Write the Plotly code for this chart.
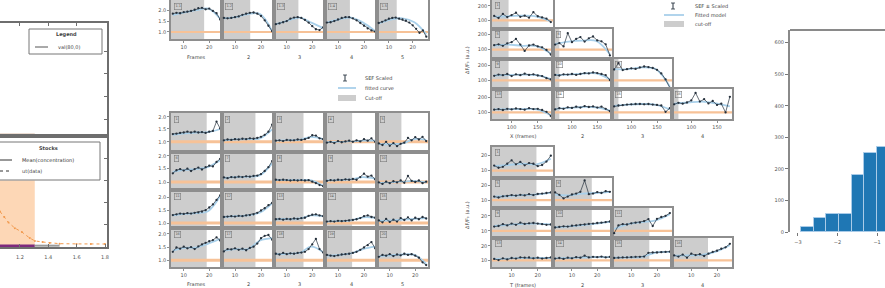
import plotly.graph_objects as go

# ======================= DATA =======================
# Panel A (left, cropped)
A_X_TICKS = [1.2, 1.4, 1.6, 1.8]
A_X_LABELS = ["1.2", "1.4", "1.6", "1.8"]
A_CURVE_X = [1.06, 1.09, 1.12, 1.165, 1.214, 1.27, 1.306, 1.36, 1.41, 1.48, 1.60, 1.70, 1.80]
A_CURVE_Y = [0.32, 0.27, 0.22, 0.17, 0.135, 0.08, 0.055, 0.045, 0.036, 0.03, 0.028, 0.027, 0.027]
A_BAND_X = [1.06, 1.305]
A_BAND_Y = [0.60, 0.60]
A_MEAN_X = [1.06, 1.305]
A_MEAN_Y = [0.012, 0.012]
A_REST_X = [1.305, 1.48]
A_REST_Y = [0.012, 0.012]
A_TOP_BAND_X = [1.06, 1.305]
A_TOP_BAND_Y = [0.012, 0.012]

# Panel B, top row
B_TOP_DOTS = [
    [6.5, 6.7, 6.6, 6.9, 7.0, 7.2, 7.5, 7.9, 8.0, 7.6, 7.8, 7.2, 6.6, 5.0],
    [5.4, 5.3, 5.4, 5.6, 5.8, 6.2, 6.5, 6.7, 6.8, 6.5, 5.9, 4.8, 3.4, 2.0],
    [3.8, 4.0, 4.3, 4.6, 5.2, 5.5, 5.6, 5.4, 4.9, 4.2, 3.3, 2.5, 2.3, 3.0],
    [4.2, 4.3, 4.6, 5.0, 5.4, 5.6, 5.6, 5.3, 4.8, 4.1, 3.4, 2.7, 2.2, 1.9],
    [4.1, 4.4, 4.8, 5.2, 5.4, 5.5, 5.2, 5.0, 4.7, 4.2, 3.5, 2.6, 1.6, 2.2, 0.6],
]
B_TOP_FIT = [
    [6.1, 6.8, 7.4, 7.8, 5.2],
    [5.3, 5.6, 6.4, 6.4, 2.0],
    [3.8, 4.7, 5.5, 4.2, 2.8],
    [4.2, 5.0, 5.5, 4.2, 2.0],
    [4.0, 5.0, 5.3, 4.3, 1.2],
]
B_TOP_CUT = [8.6, 7.1, 6.2, 6.2, 5.3]
B_TOP_BASE = 1.8
B_TOP_YTICKS = [1.8, 4.6, 7.4]
B_TOP_YLABELS = ["1.0", "1.5", "2.0"]
B_X_TICKS = [3, 10]
B_X_LABELS = ["10", "20"]
B_COL_TITLES = ["Frames", "2", "3", "4", "5"]

# Panel B, 4x5 grid
B_GRID_DOTS = [
    [[4.6, 4.7, 4.9, 5.0, 5.2, 5.0, 5.2, 5.0, 5.1, 4.9, 5.2, 5.4, 7.8, 6.0],
     [3.0, 3.2, 3.1, 3.3, 3.2, 3.4, 3.3, 3.5, 3.4, 3.6, 3.9, 4.4, 5.2, 7.0],
     [2.9, 3.0, 2.8, 3.1, 3.0, 3.0, 3.2, 3.1, 3.3, 3.6, 4.3, 4.2, 3.5, 3.3],
     [2.4, 2.6, 2.3, 2.8, 2.5, 2.7, 2.9, 2.6, 3.0, 2.7, 3.3, 2.9, 3.5, 2.6],
     [2.2, 1.8, 2.6, 1.6, 2.3, 1.5, 2.1, 2.4, 3.6, 3.0, 3.8, 3.2, 3.9, 2.8]],
    [[4.4, 5.2, 5.5, 5.1, 5.6, 5.0, 5.5, 5.9, 5.4, 6.0, 6.4, 6.2, 7.4, 8.2],
     [3.3, 3.1, 3.4, 3.3, 3.5, 3.4, 3.6, 3.5, 3.7, 3.8, 4.2, 5.0, 6.0, 7.6],
     [2.7, 2.6, 2.7, 2.6, 2.5, 2.6, 2.5, 2.6, 2.5, 2.6, 2.2, 1.8, 1.3, 1.0],
     [2.4, 2.6, 2.5, 2.7, 2.6, 2.8, 2.7, 2.9, 2.7, 3.4, 4.3, 3.5, 3.8, 2.8],
     [2.0, 1.6, 2.2, 1.8, 2.3, 2.0, 2.5, 1.9, 3.7, 2.4, 2.1, 2.5, 1.8, 2.2]],
    [[3.4, 3.6, 3.8, 3.7, 3.9, 3.8, 4.0, 4.1, 4.3, 4.7, 5.4, 6.2, 7.4, 8.6],
     [2.9, 3.0, 3.1, 3.0, 3.2, 3.1, 3.3, 3.4, 3.6, 4.0, 4.6, 5.2, 6.0, 6.6],
     [2.3, 2.4, 2.2, 2.4, 2.3, 2.5, 2.4, 2.6, 2.7, 3.2, 3.5, 3.6, 3.3, 3.1],
     [1.7, 1.8, 1.7, 1.9, 1.8, 1.9, 2.0, 2.1, 2.3, 2.6, 3.1, 3.3, 2.9, 2.7],
     [2.0, 1.5, 2.4, 1.6, 2.2, 1.7, 2.6, 2.1, 2.8, 2.0, 2.7, 2.3, 2.9, 2.5]],
    [[3.9, 5.0, 4.7, 5.2, 4.8, 5.1, 4.6, 5.3, 5.8, 6.2, 6.6, 6.9, 7.6, 6.8],
     [4.0, 4.6, 4.5, 4.8, 4.4, 4.7, 4.3, 4.9, 5.2, 6.0, 7.4, 8.0, 8.2, 7.0],
     [3.4, 3.2, 3.6, 3.3, 3.5, 3.4, 3.6, 3.7, 3.9, 4.6, 5.8, 7.2, 4.6, 3.7],
     [3.1, 2.9, 2.8, 3.0, 3.2, 3.3, 3.4, 3.6, 3.9, 4.4, 5.0, 5.6, 6.4, 4.8],
     [2.6, 3.1, 2.9, 3.3, 2.8, 3.2, 3.0, 3.4, 3.1, 3.3, 2.9, 2.4, 1.2, 0.5]],
]
B_GRID_FIT = [
    [[4.4, 4.8, 5.0, 5.1, 5.9], [3.0, 3.2, 3.3, 3.5, 5.8], [2.9, 3.0, 3.1, 3.9, 3.3],
     [2.5, 2.6, 2.7, 2.9, 2.9], [2.0, 2.0, 2.2, 3.3, 3.1]],
    [[4.8, 5.3, 5.5, 6.1, 7.8], [3.2, 3.4, 3.5, 3.9, 7.0], [2.6, 2.6, 2.6, 2.5, 1.1],
     [2.5, 2.6, 2.8, 3.4, 3.0], [1.9, 2.0, 2.2, 2.4, 2.0]],
    [[3.3, 3.7, 3.9, 4.5, 8.4], [2.9, 3.1, 3.3, 4.1, 6.5], [2.3, 2.4, 2.5, 3.3, 3.1],
     [1.7, 1.8, 2.0, 2.8, 2.7], [1.9, 2.0, 2.2, 2.4, 2.6]],
    [[4.2, 4.9, 5.0, 6.0, 7.2], [4.2, 4.6, 4.6, 6.8, 7.4], [3.3, 3.4, 3.6, 5.2, 3.8],
     [2.9, 3.1, 3.5, 4.6, 5.2], [2.8, 3.0, 3.2, 3.1, 0.8]],
]
B_GRID_CUT = [9.3, 8.5, 7.6, 6.8, 6.2]
B_GRID_BASE = [2.6, 2.1, 1.3, 1.7]
B_GRID_YTICKS = [[2.6, 5.9, 9.0], [2.1, 5.6, 9.0], [1.3, 4.6, 8.0], [1.7, 5.1, 8.5]]
B_GRID_YLABELS = ["1.0", "1.5", "2.0"]

# Panel C, upper staircase
C_UP_DOTS = [
    [[4.5, 3.8, 5.2, 4.1, 4.8, 5.6, 4.2, 4.6, 3.9, 5.8, 4.4, 4.0, 3.6, 2.4]],
    [[4.6, 4.9, 4.4, 5.2, 5.6, 6.7, 4.8, 2.7, 4.5, 4.8, 4.2, 3.9, 3.0, 1.5],
     [4.8, 5.3, 4.2, 8.6, 5.6, 6.7, 7.3, 5.8, 6.9, 7.5, 6.2, 5.9, 4.9, 1.2]],
    [[4.4, 4.8, 4.6, 5.0, 4.3, 4.9, 4.6, 5.1, 4.7, 4.9, 4.5, 4.3, 3.6, 3.2],
     [4.7, 4.5, 4.9, 4.8, 5.0, 4.7, 5.0, 5.3, 5.2, 5.5, 5.3, 5.0, 4.6, 3.0],
     [6.5, 8.6, 6.3, 6.6, 6.9, 6.7, 7.2, 7.5, 7.3, 7.0, 6.4, 5.2, 3.2, 0.4]],
    [[3.1, 3.3, 3.0, 3.4, 3.2, 3.5, 3.3, 3.1, 3.6, 3.3, 3.4, 3.0, 2.4, 1.0],
     [3.2, 3.6, 3.4, 3.9, 3.7, 4.1, 3.8, 4.3, 4.0, 4.2, 3.8, 4.1, 3.4, 2.6],
     [4.2, 4.5, 4.6, 4.8, 4.9, 5.0, 5.0, 4.9, 5.0, 4.8, 4.7, 4.5, 2.4, 3.6],
     [4.9, 5.4, 5.1, 5.5, 6.2, 8.7, 5.8, 6.6, 5.2, 6.0, 4.7, 5.1, 2.2, 7.4]],
]
C_UP_FIT = [
    [[4.3, 4.4, 4.6, 4.3, 2.6]],
    [[4.5, 4.8, 4.4, 4.3, 1.8], [5.0, 5.8, 6.1, 6.0, 1.6]],
    [[4.5, 4.7, 4.8, 4.6, 3.3], [4.7, 4.8, 5.1, 5.2, 3.2], [6.6, 6.6, 7.2, 6.6, 0.8]],
    [[3.2, 3.3, 3.3, 3.2, 1.3], [3.4, 3.7, 4.0, 3.9, 2.8], [4.4, 4.8, 5.0, 4.7, 3.2],
     [5.1, 5.5, 5.8, 5.2, 4.2]],
]
C_UP_CUT = [3.3, 1.0, 1.0, 1.0]
C_UP_BASE = [3.0, 3.1, 2.9, 2.2]
C_UP_YLABELS = ["100", "200"]
C_UP_XLABELS = ["100", "150"]
C_UP_COL_TITLES = ["X (frames)", "2", "3", "4"]

# Panel C, lower staircase
C_LO_DOTS = [
    [[4.0, 3.3, 3.6, 4.6, 5.7, 4.4, 5.2, 4.1, 4.8, 4.6, 3.8, 4.2, 5.3, 7.2]],
    [[3.8, 3.5, 3.9, 4.0, 4.3, 4.1, 4.4, 4.2, 4.6, 4.3, 4.7, 4.8, 5.0, 5.2],
     [5.2, 4.4, 3.2, 3.8, 4.5, 4.8, 5.4, 9.2, 4.6, 4.8, 5.3, 5.0, 5.6, 5.4]],
    [[3.8, 4.0, 4.6, 4.2, 4.8, 4.4, 5.1, 4.7, 4.9, 5.0, 4.8, 4.6, 4.4, 4.5],
     [3.5, 3.7, 3.9, 3.8, 4.1, 4.2, 4.4, 4.5, 4.7, 4.8, 5.0, 5.1, 5.3, 5.5],
     [1.6, 4.2, 4.6, 4.5, 4.9, 5.1, 5.2, 5.6, 6.3, 4.0, 6.4, 7.0, 7.4, 8.3]],
    [[2.8, 2.4, 3.0, 2.6, 3.1, 2.9, 3.3, 3.2, 3.3, 3.0, 3.2, 2.9, 3.1, 3.3],
     [2.9, 3.1, 2.8, 3.2, 3.0, 3.4, 3.2, 3.9, 3.3, 3.5, 3.4, 3.6, 3.3, 3.5],
     [3.1, 3.2, 3.3, 3.3, 3.4, 3.5, 3.5, 3.6, 4.9, 5.0, 5.0, 5.1, 5.2, 5.3],
     [4.0, 3.6, 4.3, 3.2, 4.6, 4.1, 4.4, 3.8, 4.6, 5.2, 5.6, 6.3, 6.8, 8.0]],
]
C_LO_FIT = [
    [[3.8, 4.2, 4.6, 4.4, 6.2]],
    [[3.8, 4.0, 4.3, 4.5, 5.1], [4.5, 4.2, 4.8, 5.0, 5.4]],
    [[4.0, 4.4, 4.7, 4.8, 4.5], [3.6, 3.9, 4.3, 4.8, 5.4], [3.0, 4.6, 5.3, 5.9, 7.9]],
    [[2.7, 2.9, 3.1, 3.1, 3.1], [3.0, 3.1, 3.3, 3.4, 3.4], [3.2, 3.3, 3.5, 5.0, 5.2],
     [3.9, 4.0, 4.2, 5.3, 7.5]],
]
C_LO_CUT = [9.7, 8.7, 8.2, 7.9]
C_LO_BASE = [2.4, 2.6, 2.4, 2.3]
C_LO_YLABELS = ["10", "20"]
C_LO_XLABELS = ["10", "20"]
C_LO_COL_TITLES = ["T (frames)", "2", "3", "4"]
C_X_TICKS = [4, 10]

# Panel D histogram
D_BIN_LEFT = [-2.92, -2.60, -2.28, -1.96, -1.64, -1.32, -1.00]
D_COUNTS = [15, 45, 58, 58, 180, 250, 270]
D_BIN_WIDTH = 0.32
D_Y_TICKS = [0, 100, 200, 300, 400, 500, 600]
D_X_TICKS = [-3, -2, -1]
D_X_LABELS = ["\u22123", "\u22122", "\u22121"]

# ======================= STYLE / LAYOUT =======================
W, H = 885, 288
FONT = "DejaVu Sans"
GRAY = "#cdcdcd"
FRAME = "#8e8e8e"
ORANGE = "#f7c297"
BLUE = "#a9d0ea"
DARK = "#25303c"
TICKF = dict(size=5, color="#555", family=FONT)

fig = go.Figure()
_n = [0]


def panel(xpx, ypx, xr, yr, frame=FRAME, fw=1.5):
    _n[0] += 1
    s = "" if _n[0] == 1 else str(_n[0])
    xa = dict(domain=[xpx[0] / W, xpx[1] / W], range=xr, anchor="y" + s, showgrid=False,
              zeroline=False, fixedrange=True, showline=True, mirror=True, linecolor=frame,
              linewidth=fw, ticks="", showticklabels=False, tickfont=TICKF)
    ya = dict(domain=[1 - ypx[1] / H, 1 - ypx[0] / H], range=yr, anchor="x" + s, showgrid=False,
              zeroline=False, fixedrange=True, showline=True, mirror=True, linecolor=frame,
              linewidth=fw, ticks="", showticklabels=False, tickfont=TICKF)
    fig.update_layout(**{"xaxis" + s: xa, "yaxis" + s: ya})
    return s


def small(s, dots, fit, cut, base, label, bw=2.6):
    n = len(dots)
    fig.add_shape(type="rect", xref="x" + s, yref="y" + s + " domain", x0=-0.5, x1=cut,
                  y0=0, y1=1, fillcolor=GRAY, line_width=0, layer="below")
    fig.add_shape(type="line", xref="x" + s + " domain", yref="y" + s, x0=0, x1=1,
                  y0=base, y1=base, line=dict(color=ORANGE, width=bw), layer="below")
    fx = [i * (n - 1) / (len(fit) - 1) for i in range(len(fit))]
    fig.add_trace(go.Scatter(x=fx, y=fit, mode="lines", xaxis="x" + s, yaxis="y" + s,
                             line=dict(color=BLUE, width=1.8, shape="spline"), hoverinfo="skip"))
    fig.add_trace(go.Scatter(x=list(range(n)), y=dots, mode="lines+markers", xaxis="x" + s,
                             yaxis="y" + s, line=dict(color=DARK, width=0.7),
                             marker=dict(size=2.3, color=DARK), hoverinfo="skip"))
    fig.add_annotation(xref="x" + s + " domain", yref="y" + s + " domain", x=0.05, y=0.92,
                       xanchor="left", yanchor="top", text=label, showarrow=False,
                       font=dict(size=3.5, color="#555", family=FONT), bordercolor="#7a7a7a",
                       borderwidth=0.6, borderpad=0.8)


def ann(x, y, text, size=5, xanchor="center", angle=0, bold=False, color="#444"):
    fig.add_annotation(xref="paper", yref="paper", x=x / W, y=1 - y / H, text=("<b>%s</b>" % text) if bold else text,
                       showarrow=False, xanchor=xanchor, yanchor="middle", textangle=angle,
                       font=dict(size=size, color=color, family=FONT))


def pshape(**kw):
    for k in ("x0", "x1"):
        kw[k] = kw[k] / W
    for k in ("y0", "y1"):
        kw[k] = 1 - kw[k] / H
    fig.add_shape(xref="paper", yref="paper", **kw)


# ---------------- Panel A ----------------
A_XR = [1.06, 1.814]
sA1 = panel((0, 107), (23, 136), A_XR, [0, 1], frame="#6e6e6e", fw=2)
fig.update_layout(**{
    "xaxis" + sA1: dict(side="top", ticks="inside", ticklen=3, tickvals=A_X_TICKS[:3], tickcolor="#6e6e6e"),
    "yaxis" + sA1: dict(side="right", mirror=False, ticks="inside", ticklen=3,
                        tickvals=[0.15, 0.35, 0.55, 0.75], tickcolor="#6e6e6e"),
})
fig.add_trace(go.Scatter(x=A_TOP_BAND_X, y=A_TOP_BAND_Y, mode="lines", xaxis="x" + sA1, yaxis="y" + sA1,
                         line=dict(color="#b07a50", width=2), hoverinfo="skip"))
sA2 = panel((0, 107), (136, 247), A_XR, [0, 1], frame="#6e6e6e", fw=2)
fig.update_layout(**{
    "xaxis" + sA2: dict(ticks="inside", ticklen=3, tickvals=A_X_TICKS, ticktext=A_X_LABELS,
                        showticklabels=True, tickcolor="#6e6e6e", ticklabelstandoff=4),
    "yaxis" + sA2: dict(side="right", mirror=False, ticks="inside", ticklen=3,
                        tickvals=[0.2, 0.4, 0.6, 0.8], tickcolor="#6e6e6e"),
})
fig.add_trace(go.Scatter(x=A_BAND_X, y=A_BAND_Y, mode="none", fill="tozeroy", fillcolor="#fdd7b6",
                         xaxis="x" + sA2, yaxis="y" + sA2, hoverinfo="skip"))
fig.add_trace(go.Scatter(x=A_CURVE_X, y=A_CURVE_Y, mode="lines+markers", xaxis="x" + sA2, yaxis="y" + sA2,
                         line=dict(color="#f29a4e", width=1, dash="dot"), marker=dict(size=2, color="#f29a4e"),
                         hoverinfo="skip"))
fig.add_trace(go.Scatter(x=A_MEAN_X, y=A_MEAN_Y, mode="lines", xaxis="x" + sA2, yaxis="y" + sA2,
                         line=dict(color="#7d2a7d", width=2.5), hoverinfo="skip"))
fig.add_trace(go.Scatter(x=A_REST_X, y=A_REST_Y, mode="lines", xaxis="x" + sA2, yaxis="y" + sA2,
                         line=dict(color="#9a9a9a", width=2), hoverinfo="skip"))
# legends of panel A
pshape(type="rect", x0=29, x1=102, y0=29, y1=54, line=dict(color="#777", width=1), fillcolor="white")
ann(66, 34, "Legend", size=5, bold=True)
pshape(type="line", x0=35, x1=48, y0=47, y1=47, line=dict(color="#555", width=1))
ann(56, 47, "val(80,0)", size=5, xanchor="left")
pshape(type="rect", x0=-2, x1=100, y0=142, y1=180, line=dict(color="#777", width=1), fillcolor="white")
ann(48, 148, "Stocks", size=5, bold=True)
pshape(type="line", x0=0, x1=12, y0=160, y1=160, line=dict(color="#333", width=1))
ann(20, 160, "Mean(concentration)", size=5, xanchor="left", color="#333")
pshape(type="line", x0=0, x1=12, y0=171, y1=171, line=dict(color="#333", width=1, dash="dot"))
ann(20, 171, "ut(data)", size=5, xanchor="left")

# ---------------- Panel B ----------------
BX = [171, 222, 274, 325, 377, 428]
BY = [113, 152, 190, 228, 267]
for c in range(5):
    d = B_TOP_DOTS[c]
    s = panel((BX[c], BX[c + 1]), (0, 39), [-0.5, len(d) - 0.5], [0, 10])
    small(s, d, B_TOP_FIT[c], B_TOP_CUT[c], B_TOP_BASE, "1.%d" % (c + 1), bw=2.2)
    upd = {"xaxis" + s: dict(ticks="outside", ticklen=2, tickvals=B_X_TICKS, ticktext=B_X_LABELS,
                             showticklabels=True, tickcolor=FRAME)}
    if c == 0:
        upd["yaxis" + s] = dict(ticks="outside", ticklen=2, tickvals=B_TOP_YTICKS,
                                ticktext=B_TOP_YLABELS, showticklabels=True, tickcolor=FRAME)
    fig.update_layout(**upd)
    ann((BX[c] + BX[c + 1]) / 2, 57, B_COL_TITLES[c], size=5)

for r in range(4):
    for c in range(5):
        d = B_GRID_DOTS[r][c]
        s = panel((BX[c], BX[c + 1]), (BY[r], BY[r + 1]), [-0.5, len(d) - 0.5], [0, 10])
        small(s, d, B_GRID_FIT[r][c], B_GRID_CUT[c], B_GRID_BASE[r], "%d" % (r * 5 + c + 1), bw=3)
        upd = {}
        if c == 0:
            upd["yaxis" + s] = dict(ticks="outside", ticklen=2, tickvals=B_GRID_YTICKS[r],
                                    ticktext=B_GRID_YLABELS, showticklabels=True, tickcolor=FRAME)
        if r == 3:
            upd["xaxis" + s] = dict(ticks="outside", ticklen=2, tickvals=B_X_TICKS, ticktext=B_X_LABELS,
                                    showticklabels=True, tickcolor=FRAME)
        if upd:
            fig.update_layout(**upd)
for c in range(5):
    ann((BX[c] + BX[c + 1]) / 2, 284, B_COL_TITLES[c], size=5)

# legend B
pshape(type="line", x0=345, x1=345, y0=75, y1=81, line=dict(color=DARK, width=1))
pshape(type="line", x0=343, x1=347, y0=75, y1=75, line=dict(color=DARK, width=0.8))
pshape(type="line", x0=343, x1=347, y0=81, y1=81, line=dict(color=DARK, width=0.8))
ann(363, 78, "SEF Scaled", size=5, xanchor="left")
pshape(type="line", x0=338, x1=356, y0=88, y1=88, line=dict(color=BLUE, width=1.8))
ann(363, 88, "fitted curve", size=5, xanchor="left")
pshape(type="rect", x0=338, x1=356, y0=95, y1=101, line=dict(width=0), fillcolor=GRAY)
ann(363, 98, "Cut-off", size=5, xanchor="left")


# ---------------- Panel C ----------------
CX = [492, 553, 612, 672, 732]
CUY = [0, 29, 59, 89, 119]
CLY = [147, 178, 208, 238, 267]


def staircase(YS, DOTS, FITS, CUT, BASE, YLAB, XLAB):
    for r in range(4):
        for c in range(r + 1):
            d = DOTS[r][c]
            s = panel((CX[c], CX[c + 1]), (YS[r], YS[r + 1]), [-0.5, len(d) - 0.5], [0, 10])
            small(s, d, FITS[r][c], CUT[c], BASE[r], "%d" % (r * 4 + c + 1), bw=2.2)
            upd = {}
            if c == 0:
                upd["yaxis" + s] = dict(ticks="outside", ticklen=2, tickvals=[BASE[r], BASE[r] + 5],
                                        ticktext=YLAB, showticklabels=True, tickcolor=FRAME)
            if r == 3:
                upd["xaxis" + s] = dict(ticks="outside", ticklen=2, tickvals=C_X_TICKS, ticktext=XLAB,
                                        showticklabels=True, tickcolor=FRAME)
            if upd:
                fig.update_layout(**upd)


staircase(CUY, C_UP_DOTS, C_UP_FIT, C_UP_CUT, C_UP_BASE, C_UP_YLABELS, C_UP_XLABELS)
staircase(CLY, C_LO_DOTS, C_LO_FIT, C_LO_CUT, C_LO_BASE, C_LO_YLABELS, C_LO_XLABELS)
for c in range(4):
    ann((CX[c] + CX[c + 1]) / 2, 136, C_UP_COL_TITLES[c], size=5)
    ann((CX[c] + CX[c + 1]) / 2, 285, C_LO_COL_TITLES[c], size=5)
ann(467, 60, "\u0394F/F\u2080 (a.u.)", size=5, angle=-90)
ann(467, 215, "\u0394F/F\u2080 (a.u.)", size=5, angle=-90)

# legend C
pshape(type="line", x0=673, x1=673, y0=3, y1=9, line=dict(color=DARK, width=1))
pshape(type="line", x0=671, x1=675, y0=3, y1=3, line=dict(color=DARK, width=0.8))
pshape(type="line", x0=671, x1=675, y0=9, y1=9, line=dict(color=DARK, width=0.8))
ann(693, 6, "SEF \u00b1 Scaled", size=5, xanchor="left")
pshape(type="line", x0=664, x1=684, y0=15, y1=15, line=dict(color=BLUE, width=1.8))
ann(693, 15, "Fitted model", size=5, xanchor="left")
pshape(type="rect", x0=664, x1=684, y0=21, y1=27, line=dict(width=0), fillcolor=GRAY)
ann(693, 24, "cut-off", size=5, xanchor="left")

# ---------------- Panel D ----------------
sD = panel((790, 885), (30, 232), [-3.2, -0.8], [0, 640], frame="#8a8a8a", fw=2)
fig.update_layout(**{
    "xaxis" + sD: dict(showline=False, mirror=False, ticks="outside", ticklen=3, tickvals=D_X_TICKS,
                       ticktext=D_X_LABELS, showticklabels=True, tickcolor="#777", ticklabelstandoff=2),
    "yaxis" + sD: dict(mirror=False, ticks="outside", ticklen=3, tickvals=D_Y_TICKS, showticklabels=True,
                       tickcolor="#777"),
})
fig.add_shape(type="line", xref="x" + sD + " domain", yref="y" + sD + " domain", x0=0, x1=1, y0=1, y1=1,
              line=dict(color="#8a8a8a", width=2))
fig.add_trace(go.Bar(x=[b + D_BIN_WIDTH / 2 for b in D_BIN_LEFT], y=D_COUNTS, width=D_BIN_WIDTH,
                     marker=dict(color="#1f77b4", line=dict(color="#a9cbe8", width=1)),
                     xaxis="x" + sD, yaxis="y" + sD, hoverinfo="skip"))

fig.update_layout(
    width=W, height=H, margin=dict(l=0, r=0, t=0, b=0), template="none",
    paper_bgcolor="white", plot_bgcolor="white", showlegend=False, bargap=0,
    font=dict(family=FONT, size=5, color="#444"),
)
fig.write_html("out.html")
